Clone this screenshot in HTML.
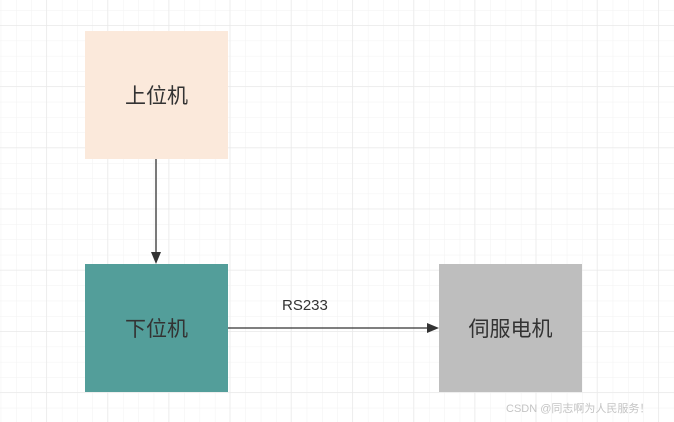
<!DOCTYPE html>
<html><head><meta charset="utf-8"><style>
html,body{margin:0;padding:0;}
body{width:674px;height:422px;overflow:hidden;background:#fff;position:relative;font-family:"Liberation Sans","Noto Sans CJK SC",sans-serif;}
.box{position:absolute;width:143px;height:128px;display:flex;align-items:center;justify-content:center;font-size:21px;color:#333;}
</style></head><body>
<svg width="674" height="422" style="position:absolute;left:0;top:0">
<defs>
<pattern id="g" x="0.7" y="10" width="15.3" height="15.3" patternUnits="userSpaceOnUse">
<path d="M0 0H15.3M0 0V15.3" stroke="#f2f2f2" stroke-width="1" fill="none"/>
</pattern>
<pattern id="G" x="46" y="25" width="61.2" height="61.2" patternUnits="userSpaceOnUse">
<path d="M0 0H61.2M0 0V61.2" stroke="#e8e8e8" stroke-width="1.2" fill="none"/>
</pattern>
</defs>
<rect width="674" height="422" fill="url(#g)"/>
<rect width="674" height="422" fill="url(#G)"/>
<line x1="156" y1="159" x2="156" y2="254" stroke="#333" stroke-width="1.3"/>
<polygon points="151,252 161,252 156,264" fill="#333"/>
<line x1="228" y1="328" x2="429" y2="328" stroke="#333" stroke-width="1.3"/>
<polygon points="427,323 427,333 439,328" fill="#333"/>
<text x="282" y="310" font-size="15" fill="#333" font-family="Liberation Sans, sans-serif">RS233</text>
</svg>
<div class="box" style="left:85px;top:31px;background:#fbe9db">上位机</div>
<div class="box" style="left:85px;top:264px;background:#539e9a">下位机</div>
<div class="box" style="left:439px;top:264px;background:#bebebe">伺服电机</div>
<div style="position:absolute;left:506px;top:400px;font-size:11px;color:#c4c4c4;white-space:nowrap">CSDN @同志啊为人民服务！</div>
</body></html>
